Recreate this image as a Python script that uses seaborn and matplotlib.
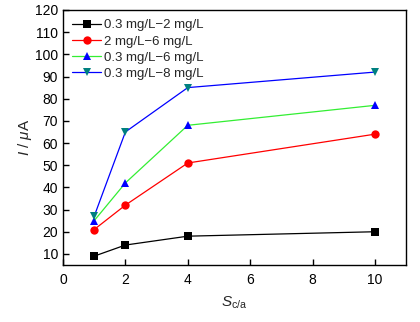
import matplotlib
matplotlib.use("Agg")
import matplotlib.pyplot as plt
import seaborn as sns
import pandas as pd

x_vals = [1, 2, 4, 10]
s1 = [9, 14, 18, 20]
s2 = [21, 32, 51, 64]
s3 = [25, 42, 68, 77]
s4 = [27, 65, 85, 92]
labels = ["0.3 mg/L\u22122 mg/L", "2 mg/L\u22126 mg/L", "0.3 mg/L\u22126 mg/L", "0.3 mg/L\u22128 mg/L"]
x_ticks = [0, 2, 4, 6, 8, 10]
y_ticks = [10, 20, 30, 40, 50, 60, 70, 80, 90, 100, 110, 120]

sns.set_theme(style="white")
plt.rcParams['font.family'] = ['Liberation Sans', 'DejaVu Sans']
plt.rcParams['mathtext.fontset'] = 'custom'
plt.rcParams['mathtext.it'] = 'Liberation Sans:italic'
plt.rcParams['mathtext.rm'] = 'Liberation Sans'

fig = plt.figure(figsize=(4.2, 3.22), dpi=100)
ax = fig.add_axes([0.15, 0.177, 0.817, 0.792])

styles = [
    dict(line="black", mfc="black", marker="s"),
    dict(line="red", mfc="red", marker="o"),
    dict(line="#33ee33", mfc="blue", marker="^"),
    dict(line="blue", mfc="#008080", marker="v"),
]
for vals, lab, st in zip([s1, s2, s3, s4], labels, styles):
    df = pd.DataFrame({"x": x_vals, "y": vals})
    sns.lineplot(data=df, x="x", y="y", ax=ax, color=st["line"], lw=0.9,
                 marker=st["marker"], markersize=6, markerfacecolor=st["mfc"],
                 markeredgecolor=st["mfc"], markeredgewidth=0, label=lab)

ax.set_xlim(0, 11)
ax.set_ylim(5, 120)
ax.set_xticks(x_ticks)
ax.set_yticks(y_ticks)
ax.tick_params(axis='both', direction='in', length=4, width=1, labelsize=10,
               bottom=True, left=True, top=False, right=False, colors='black')
ax.tick_params(axis='x', pad=6)
for sp in ax.spines.values():
    sp.set_color('black')
    sp.set_linewidth(1)
ax.set_xlabel(r"$S_{\mathrm{c/a}}$", fontsize=11, labelpad=5)
ax.set_ylabel(r"$I$ / $\mu$A", fontsize=11, labelpad=1)
leg = ax.legend(loc="upper left", frameon=False, fontsize=9.5, handlelength=2.2,
                handletextpad=0.2, labelspacing=0.3, borderaxespad=0.3)
fig.savefig("out.png", dpi=100)
